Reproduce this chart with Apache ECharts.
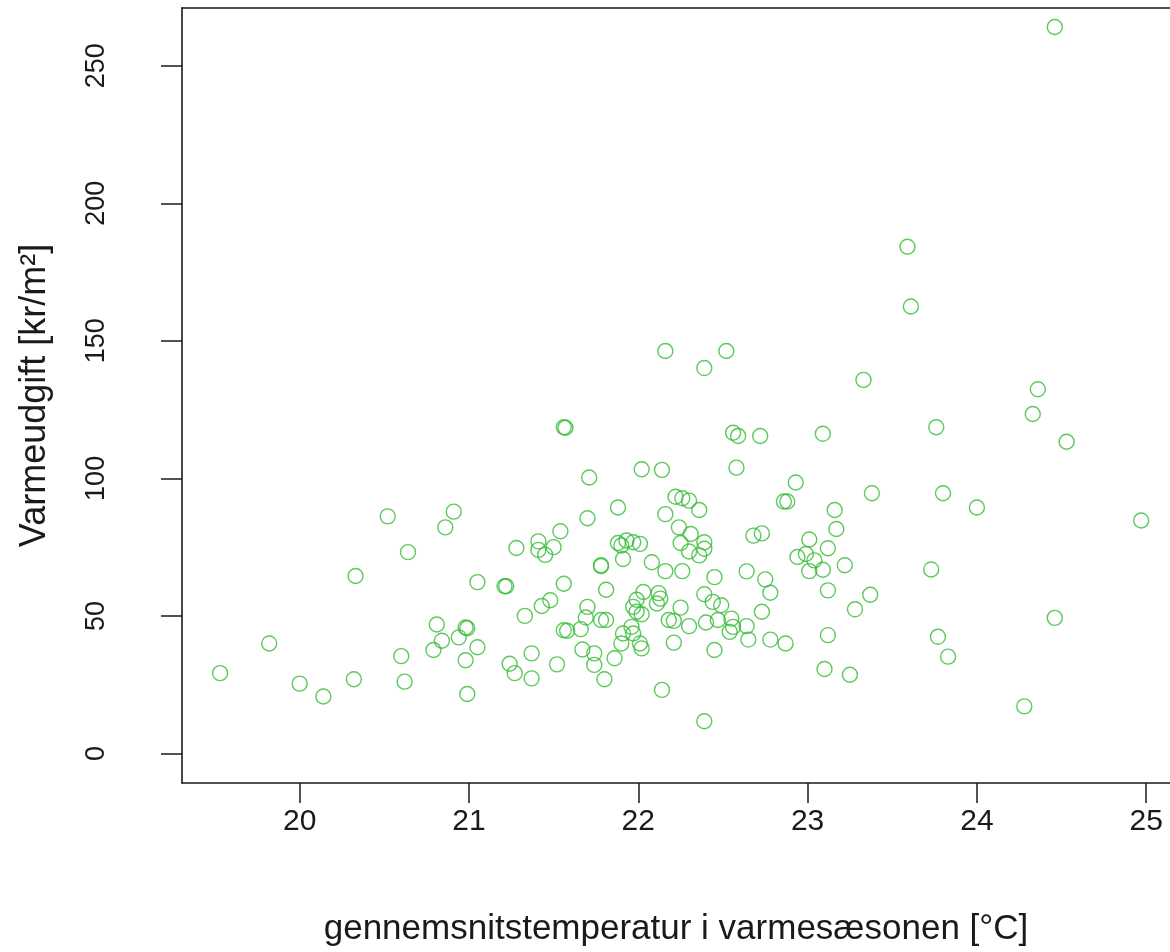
<!DOCTYPE html>
<html>
<head>
<meta charset="utf-8">
<script src="https://cdn.jsdelivr.net/npm/echarts@6/dist/echarts.min.js"></script>
<style>
html,body{margin:0;padding:0;background:#fff;}
#chart{width:1170px;height:952px;}
</style>
</head>
<body>
<div id="chart"></div>
<script>
// gennemsnitstemperatur (°C)
var temperature = [
19.53,19.82,20.00,20.14,20.32,20.52,20.33,20.64,20.60,20.62,
20.91,20.86,21.05,21.21,20.81,20.98,20.99,20.84,20.79,20.94,
21.05,20.98,20.99,21.24,21.28,21.27,
21.56,21.57,21.71,22.02,22.14,21.88,21.70,21.54,21.41,21.41,
21.45,21.50,21.88,21.93,21.97,22.01,21.90,21.91,21.78,21.78,
22.08,22.16,22.26,22.16,22.22,22.26,22.30,22.36,22.24,22.31,
22.25,22.30,22.39,22.39,22.36,22.45,21.22,21.56,21.81,21.33,
21.43,21.48,21.70,21.69,21.66,21.56,21.58,21.78,21.81,22.03,
22.12,22.13,22.11,21.99,21.97,21.99,22.02,22.25,22.18,22.21,
22.30,22.40,22.47,22.45,21.91,21.97,21.96,21.90,22.01,22.02,
21.86,22.21,21.67,21.74,21.74,21.52,21.37,21.37,21.80,22.14,
22.39,
23.33,22.56,22.59,22.72,23.09,23.76,22.58,22.93,22.86,22.88,
23.38,23.80,23.16,23.17,22.68,22.73,23.01,23.12,22.94,22.99,
23.04,23.01,23.09,23.22,23.73,22.64,22.75,22.78,23.12,23.37,
23.28,22.39,22.44,22.49,22.73,22.55,22.64,22.54,22.56,22.65,
22.78,22.87,23.12,23.77,23.83,23.10,23.25,
24.46,23.59,23.61,24.36,24.33,24.53,24.00,24.97,24.46,24.28,
22.16,22.39,22.52
];
// varmeudgift (kr/m²)
var heatingCost = [
29.2,40.0,25.4,20.7,27.0,86.2,64.5,73.2,35.4,26.1,
87.9,82.2,62.3,60.8,46.9,45.8,45.5,41.0,37.6,42.2,
38.6,33.9,21.6,32.6,74.7,29.2,
118.6,118.4,100.3,103.3,103.1,89.4,85.5,80.8,77.1,74.0,
72.2,75.0,76.5,77.4,76.8,76.2,75.6,70.7,68.1,68.4,
69.5,66.3,66.3,87.0,93.3,92.8,91.9,88.5,82.2,79.8,
76.5,73.4,76.8,74.4,72.0,64.1,60.8,61.7,59.5,50.0,
53.6,55.7,53.3,49.4,45.2,44.8,44.6,48.5,48.5,58.7,
58.3,56.3,54.5,55.9,53.3,51.5,50.6,53.0,48.5,48.2,
46.3,47.6,48.5,37.6,43.6,43.6,46.0,40.0,40.0,38.2,
34.6,40.3,37.8,36.4,32.2,32.4,36.4,27.3,27.0,23.1,
11.7,
135.8,116.6,115.4,115.4,116.2,118.6,103.9,98.5,91.6,91.6,
94.6,94.6,88.5,81.6,79.2,80.0,77.8,74.6,71.4,72.5,
70.2,66.3,66.8,68.4,66.9,66.2,63.3,58.4,59.3,57.7,
52.4,57.9,55.1,53.9,51.5,49.0,46.3,44.2,46.0,41.4,
41.4,40.0,43.0,42.4,35.2,30.7,28.6,
264.1,184.2,162.5,132.4,123.4,113.3,89.4,84.7,49.3,17.1,
146.3,140.1,146.3
];
var xTicks = [20, 21, 22, 23, 24, 25];
var yTicks = [0, 50, 100, 150, 200, 250];
var xTitle = 'gennemsnitstemperatur i varmesæsonen [°C]';
var yTitle = 'Varmeudgift [kr/m²]';

var points = temperature.map(function (t, i) { return [t, heatingCost[i]]; });

var FONT = "'Liberation Sans', Arial, sans-serif";
var INK = '#1a1a1a';
var chart = echarts.init(document.getElementById('chart'), null, {renderer: 'canvas'});
chart.setOption({
  animation: false,
  backgroundColor: '#ffffff',
  grid: {left: 182, top: 8, width: 988, height: 779, show: false},
  xAxis: [{
    type: 'value', min: 19.305, max: 25.1406, position: 'bottom',
    axisLine: {show: true, onZero: false, lineStyle: {color: INK, width: 1.6}},
    splitLine: {show: false},
    axisTick: {show: true, customValues: xTicks, length: 20, lineStyle: {color: INK, width: 1.5}},
    axisLabel: {customValues: xTicks, margin: 24, color: INK, fontSize: 30, fontFamily: FONT},
    name: xTitle, nameLocation: 'middle', nameGap: 129,
    nameTextStyle: {color: INK, fontSize: 35, fontFamily: FONT}
  }, {
    type: 'value', min: 19.305, max: 25.1406, position: 'top',
    axisLine: {show: true, onZero: false, lineStyle: {color: INK, width: 1.6}},
    splitLine: {show: false}, axisTick: {show: false}, axisLabel: {show: false}
  }],
  yAxis: {
    type: 'value', min: -10.74, max: 271.0,
    axisLine: {show: true, onZero: false, lineStyle: {color: INK, width: 1.6}},
    splitLine: {show: false},
    axisTick: {show: true, customValues: yTicks, length: 21, lineStyle: {color: INK, width: 1.5}},
    axisLabel: {customValues: yTicks, rotate: 90, margin: 72, color: INK, fontSize: 27, fontFamily: FONT},
    name: yTitle, nameLocation: 'middle', nameGap: 129,
    nameTextStyle: {color: INK, fontSize: 36, fontFamily: FONT}
  },
  series: [{
    type: 'scatter',
    xAxisIndex: 0,
    data: points,
    symbol: 'circle',
    symbolSize: 15,
    itemStyle: {color: 'rgba(0,0,0,0)', borderColor: '#33bb33', borderWidth: 1.4},
    emphasis: {disabled: true}
  }]
});
</script>
</body>
</html>
